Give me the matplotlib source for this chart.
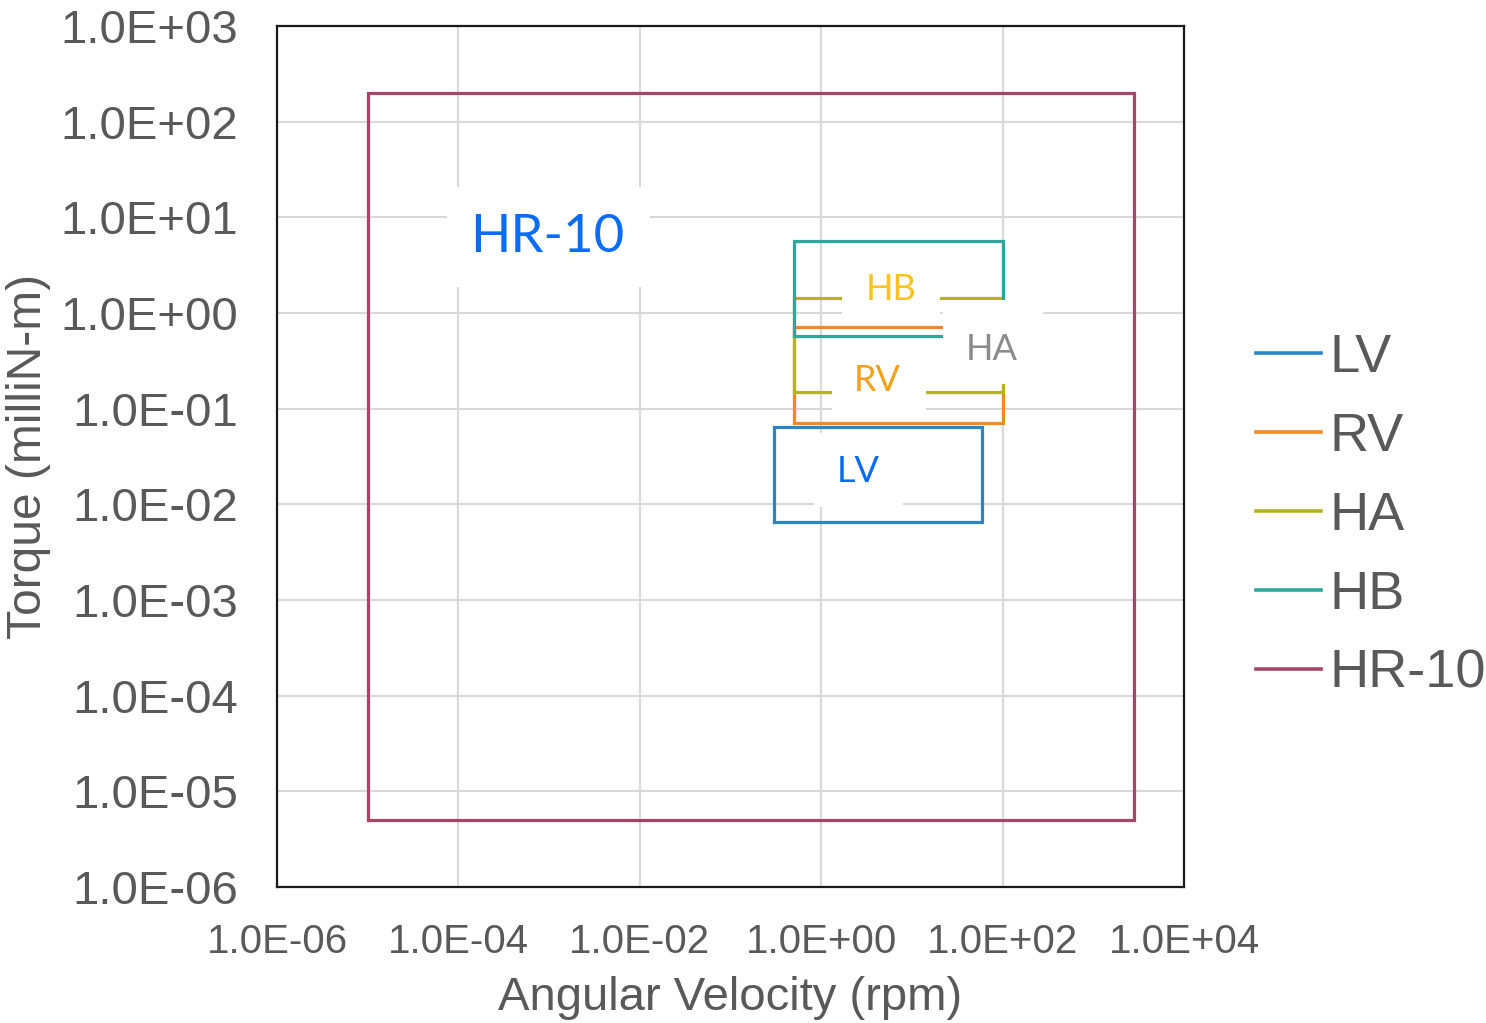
import matplotlib
matplotlib.use("Agg")
import matplotlib.pyplot as plt
import matplotlib.transforms as mtransforms
from matplotlib.patches import Rectangle

# rectangles: speed range (rpm) and torque range (milliN-m)
names = ["LV", "RV", "HA", "HB", "HR-10"]
speed_min = [0.3, 0.5, 0.5, 0.5, 1e-5]
speed_max = [60, 100, 100, 100, 2800]
torque_min = [0.0065, 0.07, 0.15, 0.575, 5e-6]
torque_max = [0.065, 0.72, 1.45, 5.6, 200]

colors = ["#2B86C5", "#F28A24", "#B5B325", "#2BA79C", "#A64569"]
label_colors = ["#0A6CF0", "#F5A11C", "#8C8C8C", "#FFC21A", "#0A6CF8"]

x_ticks = [1e-6, 1e-4, 1e-2, 1e0, 1e2, 1e4]
y_ticks = [1e-6, 1e-5, 1e-4, 1e-3, 1e-2, 1e-1, 1e0, 1e1, 1e2, 1e3]

# label anchor positions (data coords)
label_pos = {"LV": (2.55, 0.0218), "RV": (4.2, 0.195), "HA": (76, 0.42),
             "HB": (5.9, 1.78), "HR-10": (9.5e-4, 6.2)}
label_size = {"LV": 26, "RV": 26, "HA": 26, "HB": 26, "HR-10": 38}
# white label boxes: offset of centre from text (px, y up) and size (px)
label_box = {"LV": (0, 2, 89, 74), "RV": (1, -1, 94, 60), "HA": (1, 7, 100, 84),
             "HB": (0, -1, 98, 56), "HR-10": (1, 0, 203, 100)}

fig = plt.figure(figsize=(14.86, 10.23), dpi=100)
ax = fig.add_axes([277 / 1486, 1 - 887 / 1023, 907 / 1486, 861 / 1023])
ax.set_xscale("log")
ax.set_yscale("log")
ax.set_xlim(1e-6, 1e4)
ax.set_ylim(1e-6, 1e3)

for i, n in enumerate(names):
    xs = [speed_min[i], speed_max[i], speed_max[i], speed_min[i], speed_min[i]]
    ys = [torque_min[i], torque_min[i], torque_max[i], torque_max[i], torque_min[i]]
    ax.plot(xs, ys, color=colors[i], lw=2.3, label=n, zorder=3 + i * 0.1,
            solid_joinstyle="miter")

for i, n in enumerate(names):
    lx, ly = label_pos[n]
    dx, dy, w, h = label_box[n]
    tr = fig.dpi_scale_trans + mtransforms.ScaledTranslation(lx, ly, ax.transData)
    ax.add_patch(Rectangle(((dx - w / 2) / 100, (dy - h / 2) / 100), w / 100, h / 100,
                           transform=tr, fc="white", ec="none", zorder=5))
    ax.text(lx, ly, n, color=label_colors[i], fontsize=label_size[n],
            family="Lato", ha="center", va="center", zorder=6)

ax.set_xticks(x_ticks)
ax.set_yticks(y_ticks)
ax.set_xticklabels(["%.1E" % v for v in x_ticks])
ax.set_yticklabels(["%.1E" % v for v in y_ticks])
ax.minorticks_off()
ax.tick_params(axis="x", length=0, pad=26, labelsize=29, labelcolor="#595959")
ax.tick_params(axis="y", length=0, pad=28, labelsize=34, labelcolor="#595959")
for lab in ax.get_xticklabels() + ax.get_yticklabels():
    lab.set_family("Liberation Sans")
ax.grid(True, color="#D9D9D9", lw=1.5, zorder=0)
ax.set_axisbelow(True)
for s in ax.spines.values():
    s.set_color("#1a1a1a")
    s.set_linewidth(1.6)

ax.set_xlabel("Angular Velocity (rpm)", fontsize=34, color="#595959",
              family="Liberation Sans", labelpad=11)
ax.set_ylabel("Torque (milliN-m)", fontsize=34.5, color="#595959",
              family="Liberation Sans", labelpad=7)

leg = ax.legend(loc="center left", bbox_to_anchor=(1.056, 0.431), frameon=False,
                fontsize=39, handlelength=1.2, handletextpad=0.15,
                labelspacing=0.535, borderaxespad=0)
for t in leg.get_texts():
    t.set_color("#595959")
    t.set_family("Liberation Sans")
for l in leg.get_lines():
    l.set_linewidth(2.6)

fig.savefig("out.png", dpi=100)
